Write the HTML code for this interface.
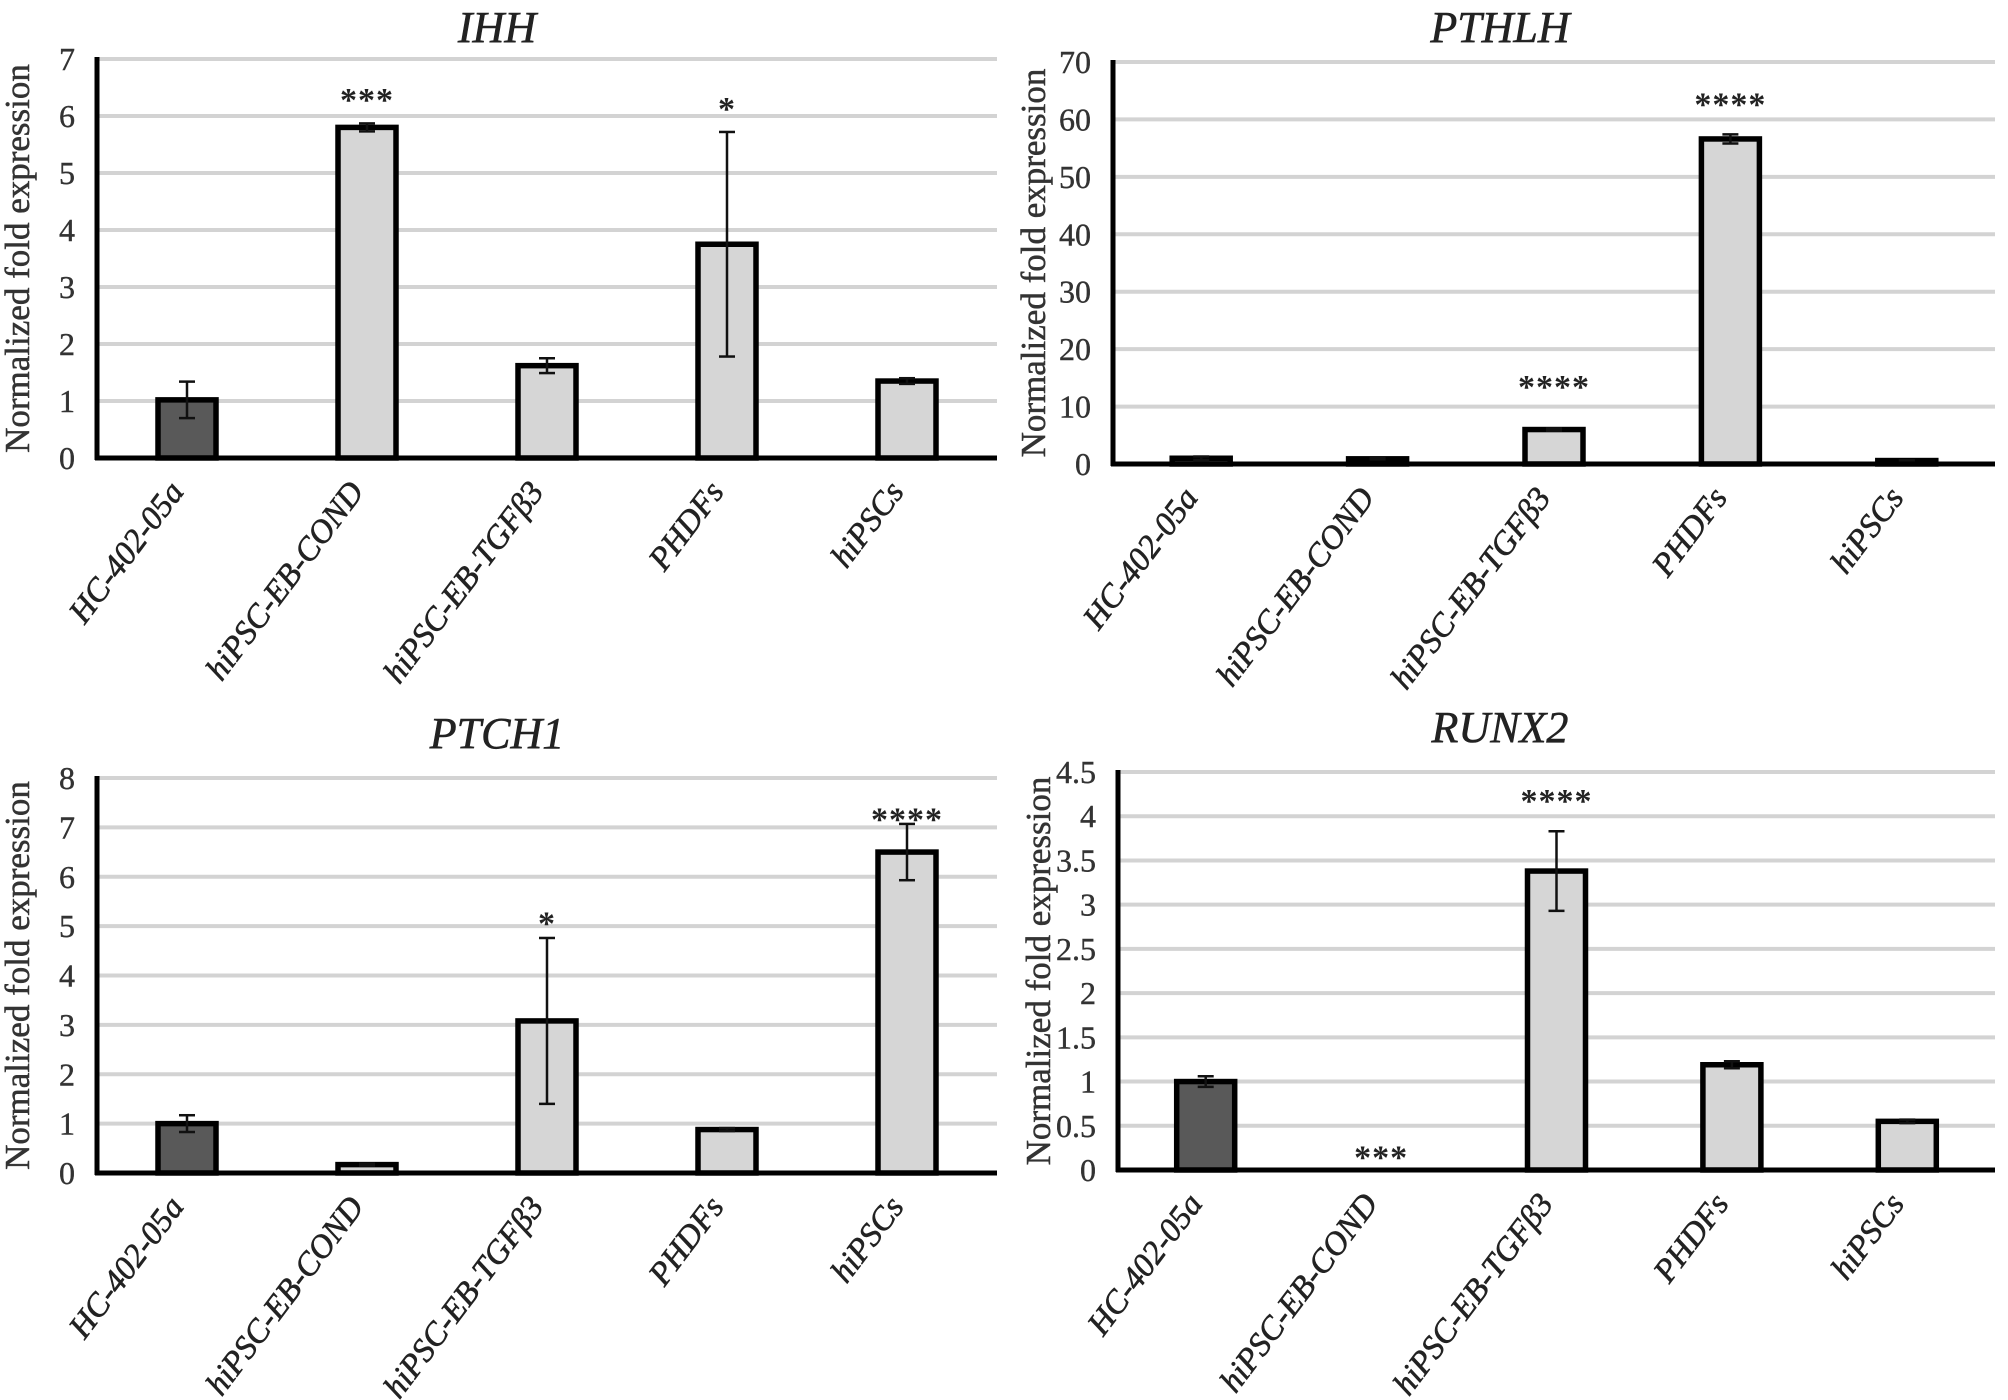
<!DOCTYPE html>
<html><head><meta charset="utf-8"><style>
html,body{margin:0;padding:0;background:#fff;}
svg{display:block;font-family:"Liberation Serif","Times New Roman",serif;}
</style></head><body>
<svg id="fig" width="2008" height="1400" viewBox="0 0 2008 1400"></svg>
<script>
const categories = ["HC-402-05a","hiPSC-EB-COND","hiPSC-EB-TGFβ3","PHDFs","hiPSCs"];
const ihhValues = [1.02, 5.8, 1.62, 3.75, 1.35];
const ihhErrors = [0.32, 0.07, 0.13, 1.97, 0.05];
const ihhTicks = ["0","1","2","3","4","5","6","7"];
const ihhStars = ["", "***", "", "*", ""];
const ihhStarVals = [0, 6.4, 0, 6.25, 0];
const pthlhValues = [1.0, 0.9, 6.0, 56.6, 0.6];
const pthlhErrors = [0.3, 0.1, 0.2, 0.8, 0.05];
const pthlhTicks = ["0","10","20","30","40","50","60","70"];
const pthlhStars = ["", "", "****", "****", ""];
const pthlhStarVals = [0, 0, 14.6, 63.8, 0];
const ptch1Values = [1.0, 0.17, 3.08, 0.88, 6.5];
const ptch1Errors = [0.17, 0.02, 1.68, 0.03, 0.57];
const ptch1Ticks = ["0","1","2","3","4","5","6","7","8"];
const ptch1Stars = ["", "", "*", "", "****"];
const ptch1StarVals = [0, 0, 5.2, 0, 7.3];
const runx2Values = [1.0, 0, 3.38, 1.19, 0.55];
const runx2Errors = [0.06, 0, 0.45, 0.04, 0.02];
const runx2Ticks = ["0","0.5","1","1.5","2","2.5","3","3.5","4","4.5"];
const runx2Stars = ["", "***", "****", "", ""];
const runx2StarVals = [0, 0.22, 4.25, 0, 0];

const NS = "http://www.w3.org/2000/svg";
const svg = document.getElementById("fig");
function mk(tag, attrs, parent, txt){
  const e = document.createElementNS(NS, tag);
  for (const k in attrs) e.setAttribute(k, attrs[k]);
  if (txt !== undefined) e.textContent = txt;
  parent.appendChild(e);
  return e;
}

function panel(cfg){
  const g = mk("g", {}, svg);
  
  
  const maxV = cfg.max;
  const yS = v => cfg.zero - (v / maxV) * (cfg.zero - cfg.top);
  const cw = (cfg.right - cfg.axisX) / categories.length;
  const xC = i => cfg.axisX + cw * (i + 0.5);
  const bw = 58;
  const t = mk("text", {x: cfg.titleX, y: cfg.titleY, "text-anchor":"middle", "font-size":44, "font-style":"italic", fill:"#222", stroke:"#222", "stroke-width":0.6}, g, cfg.title);
  
  
  const yt = mk("text", {x:0, y:0, "text-anchor":"middle", "font-size":35, fill:"#333", stroke:"#333", "stroke-width":0.5,
    transform:`translate(${cfg.axisX-68},${(cfg.top+cfg.zero)/2}) rotate(-90)`}, g, "Normalized fold expression");
  
  
  cfg.ticks.forEach(lbl => {
    const v = parseFloat(lbl);
    const y = yS(v);
    if (v > 0) {
      const gl = mk("line", {x1: cfg.axisX, x2: cfg.right, y1: y, y2: y, stroke:"#d3d3d3", "stroke-width":4}, g);
      
      
    }
    const tl = mk("text", {x: cfg.axisX - 22, y: y + 11, "text-anchor":"end", "font-size":32, fill:"#333", stroke:"#333", "stroke-width":0.4}, g, lbl);
    
    
  });
  cfg.values.forEach((v, i) => {
    const x = xC(i);
    if (v > 0) {
      const r = mk("rect", {x: x - bw/2, y: yS(v), width: bw, height: cfg.zero - yS(v),
        fill: i === 0 ? "#595959" : "#d6d6d6", stroke:"#000", "stroke-width":5.5}, g);
      
      
    }
    const e = cfg.errors[i];
    if (e > 0) {
      const eg = mk("g", {stroke:"#111", "stroke-width":2.5}, g);
      
      
      mk("line", {x1:x, x2:x, y1:yS(v+e), y2:yS(v-e)}, eg);
      mk("line", {x1:x-8, x2:x+8, y1:yS(v+e), y2:yS(v+e)}, eg);
      mk("line", {x1:x-8, x2:x+8, y1:yS(v-e), y2:yS(v-e)}, eg);
    }
    if (cfg.stars[i]) {
      const s = mk("text", {x:x, y: yS(cfg.starVals[i]) + 18, "text-anchor":"middle", "font-size":34, "font-weight":"bold", fill:"#222", "letter-spacing":1}, g, cfg.stars[i]);
      
      
    }
    const cl = mk("text", {x:0, y:0, "text-anchor":"end", "font-size":33, "font-style":"italic", fill:"#222", stroke:"#222", "stroke-width":0.6,
      transform:`translate(${x - 2},${cfg.zero + 34}) rotate(-53)`}, g, categories[i]);
    
    
  });
  const ya = mk("line", {x1: cfg.axisX, x2: cfg.axisX, y1: cfg.top - 2, y2: cfg.zero + 2, stroke:"#000", "stroke-width":5}, g);
  
  
  const xa = mk("line", {x1: cfg.axisX - 2, x2: cfg.right, y1: cfg.zero, y2: cfg.zero, stroke:"#000", "stroke-width":5}, g);
  
  
}

panel({name:"ihh", title:"IHH", titleX:497, titleY:42, axisX:97, right:997, top:59, zero:458, max:7,
  values:ihhValues, errors:ihhErrors, ticks:ihhTicks, stars:ihhStars, starVals:ihhStarVals});
panel({name:"pthlh", title:"PTHLH", titleX:1500, titleY:42, axisX:1113, right:1995, top:62, zero:464, max:70,
  values:pthlhValues, errors:pthlhErrors, ticks:pthlhTicks, stars:pthlhStars, starVals:pthlhStarVals});
panel({name:"ptch1", title:"PTCH1", titleX:497, titleY:748, axisX:97, right:997, top:778, zero:1173, max:8,
  values:ptch1Values, errors:ptch1Errors, ticks:ptch1Ticks, stars:ptch1Stars, starVals:ptch1StarVals});
panel({name:"runx2", title:"RUNX2", titleX:1500, titleY:742, axisX:1118, right:1995, top:772, zero:1170, max:4.5,
  values:runx2Values, errors:runx2Errors, ticks:runx2Ticks, stars:runx2Stars, starVals:runx2StarVals});
</script>
</body></html>
